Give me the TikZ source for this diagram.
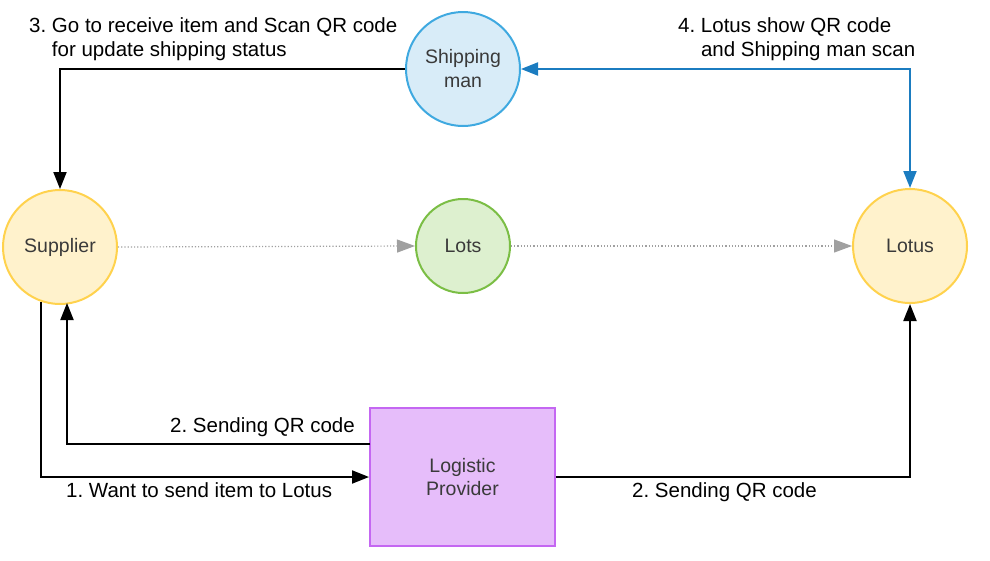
\documentclass[tikz,border=0pt]{standalone}
\usepackage{fontspec}
\setmainfont{Liberation Sans}
\usetikzlibrary{arrows.meta}
\definecolor{yelfill}{HTML}{FFF2CC}
\definecolor{yeldraw}{HTML}{FFD24D}
\definecolor{bluefill}{HTML}{D8ECF8}
\definecolor{bluedraw}{HTML}{3FA9E0}
\definecolor{grnfill}{HTML}{DDF0CF}
\definecolor{grndraw}{HTML}{7BBE45}
\definecolor{purfill}{HTML}{E6BDFA}
\definecolor{purdraw}{HTML}{C467F2}
\definecolor{arrblue}{HTML}{1B7CC0}
\definecolor{nodetext}{HTML}{3A3A3A}
\definecolor{dotgray}{HTML}{A0A0A0}
\tikzset{
  circ/.style={circle, line width=2pt, inner sep=0pt, text=nodetext, align=center,
    font=\fontsize{19.5}{24}\selectfont},
  ybox/.style={circ, fill=yelfill, draw=yeldraw, minimum size=114pt},
  bbox/.style={circ, fill=bluefill, draw=bluedraw, minimum size=114pt},
  gbox/.style={circ, fill=grnfill, draw=grndraw, minimum size=94pt},
  pbox/.style={rectangle, line width=2pt, fill=purfill, draw=purdraw, text=nodetext,
    align=center, minimum width=185pt, minimum height=138pt, inner sep=0pt,
    font=\fontsize{19.5}{23}\selectfont},
  conn/.style={line width=2pt, -{Triangle[length=17pt,width=13pt]}},
  bconn/.style={line width=2pt, draw=arrblue,
    {Triangle[length=17pt,width=13pt,color=arrblue]}-{Triangle[length=17pt,width=13pt,color=arrblue]}},
  dconn/.style={line width=1.2pt, draw=dotgray, dotted,
    -{Triangle[length=18pt,width=13pt,color=dotgray,fill=dotgray]}},
  lbl/.style={inner sep=0pt, align=left, font=\fontsize{20.5}{24}\selectfont},
}
\begin{document}
\frenchspacing
\begin{tikzpicture}[x=1pt,y=-1pt]
\useasboundingbox (0,0) rectangle (990,560);
\node[bbox] (ship) at (463,69) {Shipping\\man};
\node[ybox] (sup) at (60,247) {Supplier};
\node[gbox] (lots) at (463,246) {Lots};
\node[ybox] (lotus) at (910,246) {Lotus};
\node[pbox] (log) at (462.5,477) {Logistic\\Provider};

\coordinate (s1) at (41,302);
\coordinate (s2) at (67,303);
\coordinate (l2) at (370,444);

\draw[conn] (ship.west) -| (sup.north);
\draw[bconn] (ship.east) -| (lotus.north);
\draw[dconn] (sup.east) -- (lots.west);
\draw[dconn] (lots.east) -- (lotus.west);
\draw[conn] (s1) |- (log.west);
\draw[conn] (l2) -| (s2);
\draw[conn] (log.east) -| (lotus.south);

\node[lbl, anchor=north west] (t3) at (29,17.5) {3. Go to receive item and Scan QR code\\\phantom{3. }for update shipping status};
\node[lbl, anchor=north west] (t4) at (678,17.5) {4. Lotus show QR code\\\phantom{4. }and Shipping man scan};
\node[lbl, anchor=base west] (t2a) at (170,432) {2. Sending QR code};
\node[lbl, anchor=base west] (t1) at (66,497) {1. Want to send item to Lotus};
\node[lbl, anchor=base west] (t2b) at (632,497) {2. Sending QR code};
\end{tikzpicture}
\end{document}
